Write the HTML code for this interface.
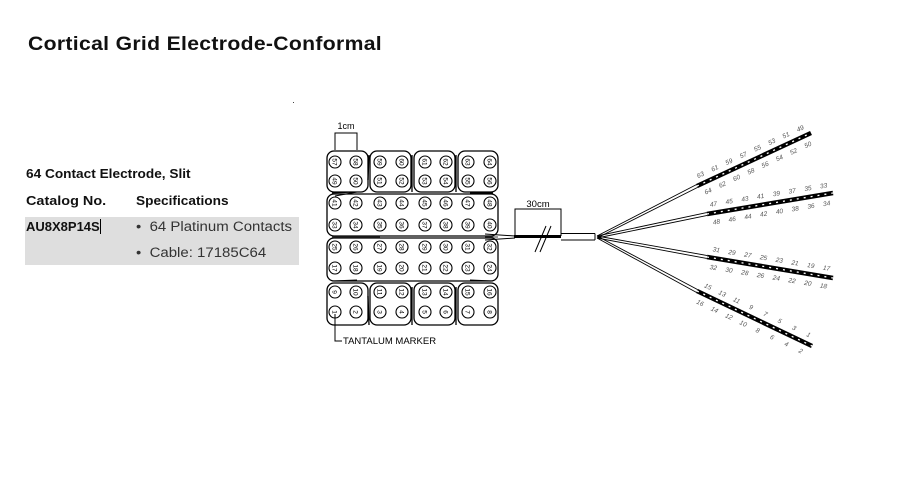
<!DOCTYPE html>
<html><head><meta charset="utf-8"><style>
html,body{margin:0;padding:0;background:#fff;width:913px;height:504px;overflow:hidden}
body{position:relative;font-family:"Liberation Sans",sans-serif}
.t{position:absolute;white-space:nowrap;color:#111;transform-origin:0 0}
</style></head><body>
<div class="t" style="left:28px;top:33px;font-size:19.5px;font-weight:bold;letter-spacing:0.3px;transform:scaleX(1.085)">Cortical Grid Electrode-Conformal</div>
<div class="t" style="left:26px;top:166px;font-size:13px;font-weight:bold;transform:scaleX(1.05)">64 Contact Electrode, Slit</div>
<div class="t" style="left:26px;top:193px;font-size:13px;font-weight:bold;transform:scaleX(1.11)">Catalog No.</div>
<div class="t" style="left:136px;top:193px;font-size:13px;font-weight:bold;transform:scaleX(1.05)">Specifications</div>
<div style="position:absolute;left:25px;top:217px;width:274px;height:48px;background:#dedede"></div>
<div class="t" style="left:26px;top:219px;font-size:13px;font-weight:bold">AU8X8P14S<span style="display:inline-block;width:1px;height:15px;background:#000;vertical-align:-3px"></span></div>
<div class="t" style="left:136px;top:219px;font-size:13.5px;color:#333;transform:scaleX(1.11)">•&nbsp;&nbsp;64 Platinum Contacts</div>
<div class="t" style="left:136px;top:245px;font-size:13.5px;color:#333;transform:scaleX(1.11)">•&nbsp;&nbsp;Cable: 17185C64</div>
<div style="position:absolute;left:293px;top:102px;width:1px;height:1px;background:#444"></div>
<svg id="s" width="913" height="504" style="position:absolute;left:0;top:0" xmlns="http://www.w3.org/2000/svg"></svg>
<script>
var s=document.getElementById('s'),h='';
var cx=[335,356,380,402,425,446,468,490],cy=[162,181,203,225,247,268,292,312];
var blk=[[327,368],[370,411],[414,455],[458,498]];
blk.forEach(function(b){h+='<rect x="'+b[0]+'" y="151" width="'+(b[1]-b[0])+'" height="41" rx="7" fill="none" stroke="#000" stroke-width="1.3"/>';
h+='<rect x="'+b[0]+'" y="283" width="'+(b[1]-b[0])+'" height="42" rx="7" fill="none" stroke="#000" stroke-width="1.3"/>';});
h+='<rect x="327" y="194" width="171" height="42" rx="7" fill="none" stroke="#000" stroke-width="1.3"/>';
h+='<rect x="327" y="238" width="171" height="43" rx="7" fill="none" stroke="#000" stroke-width="1.3"/>';
h+='<path d="M332,237 L380,237 M485,237 L498,237" stroke="#000" stroke-width="0.8"/>';
h+='<path d="M332,193 L357,192 L335,196 M493,193 L470,193 M332,281 L357,280 M493,281 L470,280" stroke="#000" stroke-width="1" fill="none"/>';
h+='<path d="M369,155 L368,180 M412,155 L412,192 M456,155 L456,192 M369,325 L368,296 M412,325 L412,287 M456,325 L456,287" stroke="#000" stroke-width="1.3"/>';
for(var r=0;r<8;r++)for(var c=0;c<8;c++){var n=(7-r)*8+c+1;
h+='<circle cx="'+cx[c]+'" cy="'+cy[r]+'" r="6" fill="#fff" stroke="#000" stroke-width="1.1"/>';
h+='<text x="'+cx[c]+'" y="'+(cy[r]+2.3)+'" font-size="6.5" text-anchor="middle" transform="rotate(90 '+cx[c]+' '+cy[r]+')" font-family="Liberation Sans">'+n+'</text>';}
h+='<path d="M335,150 L335,133 L357,133 L357,150" fill="none" stroke="#000" stroke-width="1"/><text x="346" y="129" font-size="9" text-anchor="middle" font-family="Liberation Sans">1cm</text>';
h+='<path d="M335,314 L335,341 L342,341" fill="none" stroke="#000" stroke-width="1"/><text x="343" y="344" font-size="9.5" font-family="Liberation Sans">TANTALUM MARKER</text>';
h+='<path d="M485,234 L515,236 M485,240 L515,238" stroke="#000" stroke-width="1"/>';
h+='<rect x="514" y="235" width="47" height="3" fill="#000"/>';
h+='<path d="M561,233.5 L595,233.5 M561,240 L595,240 M595,233.5 L595,240" stroke="#000" stroke-width="1" fill="none"/>';
h+='<path d="M515,236 L515,209 L561,209 L561,236" fill="none" stroke="#000" stroke-width="1"/><text x="538" y="207" font-size="9.5" text-anchor="middle" font-family="Liberation Sans">30cm</text>';
h+='<path d="M535,252 L546,226 M540,252 L551,226" stroke="#000" stroke-width="1"/>';
var L=[[697,186,811,133,[63,61,59,57,55,53,51,49],[64,62,60,58,56,54,52,50]],
[707,214,833,193,[47,45,43,41,39,37,35,33],[48,46,44,42,40,38,36,34]],
[707,257,833,278,[31,29,27,25,23,21,19,17],[32,30,28,26,24,22,20,18]],
[697,291,812,346,[15,13,11,9,7,5,3,1],[16,14,12,10,8,6,4,2]]];
L.forEach(function(l){var x0=l[0],y0=l[1],x1=l[2],y1=l[3];
var dx=x1-x0,dy=y1-y0,len=Math.sqrt(dx*dx+dy*dy),ux=dx/len,uy=dy/len,px=uy,py=-ux;
var fx=597,fy=237;
h+='<path d="M'+fx+','+(fy-1)+' L'+(x0+px*1.5)+','+(y0+py*1.5)+' M'+fx+','+(fy+1)+' L'+(x0-px*1.5)+','+(y0-py*1.5)+'" stroke="#000" stroke-width="0.9"/>';
h+='<line x1="'+x0+'" y1="'+y0+'" x2="'+x1+'" y2="'+y1+'" stroke="#000" stroke-width="4.5"/>';
h+='<line x1="'+x0+'" y1="'+y0+'" x2="'+x1+'" y2="'+y1+'" stroke="#fff" stroke-width="1.3" stroke-dasharray="2 5"/>';
var ang=Math.atan2(dy,dx)*180/Math.PI;
for(var i=0;i<8;i++){var t=(i+0.5)/8;var bx=x0+dx*t,by=y0+dy*t;
[[l[4][i],9],[l[5][i],-9]].forEach(function(q){var X=bx+px*q[1],Y=by+py*q[1]+2.5;
h+='<text x="'+X.toFixed(1)+'" y="'+Y.toFixed(1)+'" font-size="6.5" fill="#555" font-style="italic" text-anchor="middle" transform="rotate('+ang.toFixed(1)+' '+X.toFixed(1)+' '+(Y-2.5).toFixed(1)+')" font-family="Liberation Sans">'+q[0]+'</text>';});}
});
s.innerHTML=h;
</script>
</body></html>
